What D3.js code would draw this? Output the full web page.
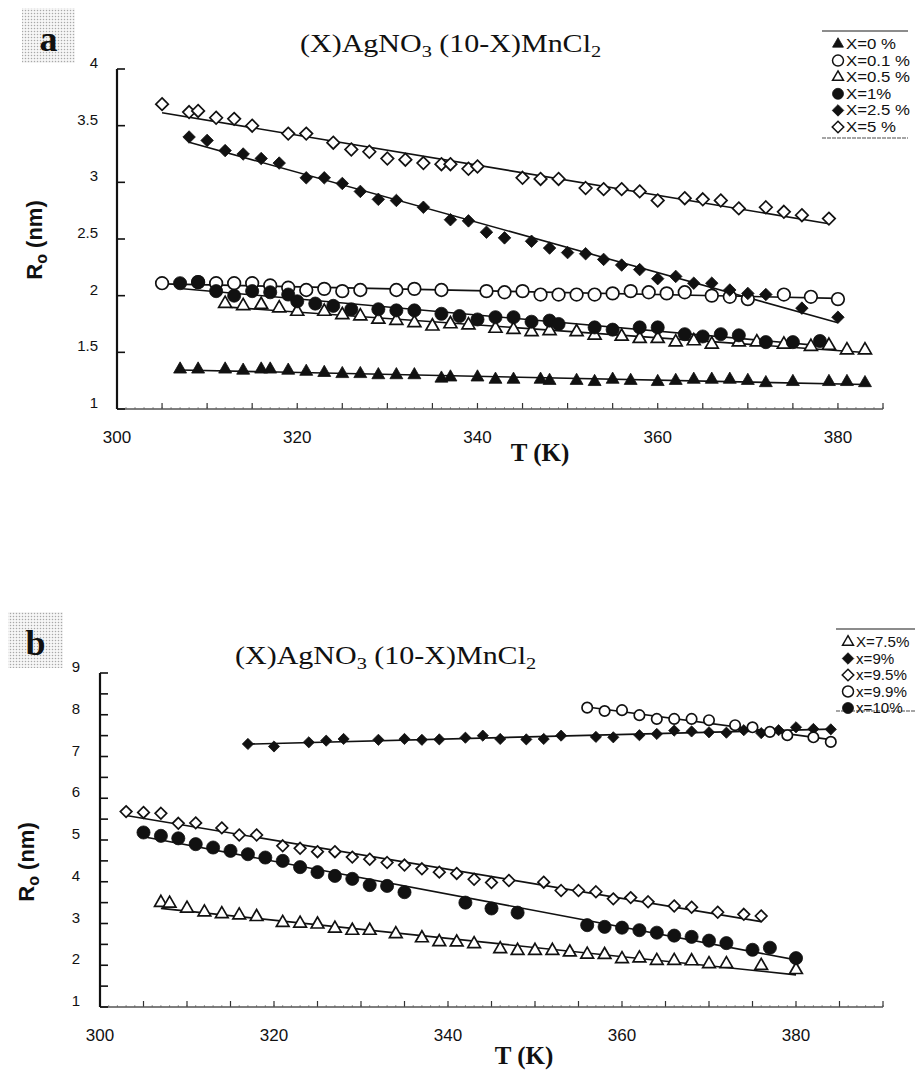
<!DOCTYPE html>
<html lang="en">
<head>
<meta charset="UTF-8">
<title>Ro vs T</title>
<script src="https://d3js.org/d3.v7.min.js"></script>
<style>
  body { margin: 0; background: #fff; }
  svg text { font-family: "Liberation Sans", Arial, sans-serif; fill: #111; }
  svg text.serif { font-family: "Liberation Serif", "Times New Roman", serif; }
</style>
</head>
<body>
<div id="chart"></div>
<script>
// ---- panel a : (X)AgNO3 (10-X)MnCl2, X = 0 ... 5 %
const a_x0_T  = [307,309,312,314,316,317,319,321,323,325,327,329,331,333,336,337,340,342,344,347,348,351,353,355,357,360,362,364,366,368,370,372,375,379,381,383];
const a_x0_R  = [1.35,1.35,1.35,1.34,1.35,1.35,1.34,1.33,1.32,1.31,1.31,1.30,1.30,1.30,1.27,1.28,1.28,1.26,1.26,1.26,1.25,1.25,1.24,1.26,1.25,1.24,1.25,1.26,1.26,1.26,1.25,1.23,1.24,1.24,1.24,1.23];
const a_x01_T = [305,309,311,313,315,317,319,321,323,325,327,331,333,336,341,343,345,347,349,351,353,355,357,359,361,363,366,368,370,374,377,380];
const a_x01_R = [2.11,2.12,2.11,2.11,2.11,2.09,2.07,2.05,2.06,2.04,2.05,2.05,2.06,2.05,2.04,2.03,2.04,2.01,2.01,2.01,2.01,2.02,2.04,2.03,2.02,2.03,2.00,1.99,1.97,2.01,1.99,1.97];
const a_x05_T = [312,314,316,318,320,323,325,327,329,331,333,335,337,339,342,344,346,348,351,353,356,358,360,362,364,366,369,371,374,377,379,381,383];
const a_x05_R = [1.93,1.91,1.92,1.89,1.86,1.86,1.83,1.82,1.79,1.78,1.76,1.73,1.75,1.74,1.71,1.70,1.68,1.69,1.68,1.65,1.64,1.62,1.62,1.59,1.60,1.57,1.59,1.59,1.57,1.55,1.56,1.52,1.52];
const a_x1_T  = [307,309,311,313,315,317,319,320,322,324,326,329,331,333,336,338,340,342,344,346,348,349,353,355,358,360,363,365,367,369,372,375,378];
const a_x1_R  = [2.11,2.12,2.04,2.00,2.04,2.03,2.01,1.95,1.93,1.91,1.88,1.88,1.87,1.87,1.84,1.82,1.79,1.81,1.81,1.77,1.78,1.75,1.72,1.70,1.72,1.72,1.66,1.64,1.66,1.65,1.59,1.59,1.60];
const a_x25_T = [308,310,312,314,316,318,321,323,325,327,329,331,334,337,339,341,343,346,348,350,352,354,356,358,360,362,364,366,368,370,372,376,380];
const a_x25_R = [3.40,3.37,3.28,3.25,3.21,3.17,3.04,3.04,2.99,2.92,2.85,2.84,2.78,2.67,2.66,2.56,2.51,2.48,2.42,2.38,2.37,2.32,2.27,2.23,2.15,2.17,2.11,2.11,2.05,2.02,2.01,1.89,1.81];
const a_x5_T  = [305,308,309,311,313,315,319,321,324,326,328,330,332,334,336,337,339,340,345,347,349,352,354,356,358,360,363,365,367,369,372,374,376,379];
const a_x5_R  = [3.69,3.62,3.63,3.57,3.56,3.50,3.43,3.43,3.35,3.29,3.27,3.21,3.20,3.17,3.16,3.16,3.12,3.14,3.04,3.03,3.03,2.95,2.94,2.94,2.92,2.84,2.86,2.85,2.84,2.77,2.78,2.74,2.71,2.68];

// ---- panel b : X = 7.5 ... 10 %
const b_x75_T = [307,308,310,312,314,316,318,321,323,325,327,329,331,334,337,339,341,343,346,348,350,352,354,356,358,360,362,364,366,368,370,372,376,380];
const b_x75_R = [3.50,3.48,3.36,3.27,3.23,3.20,3.16,3.02,3.00,2.98,2.88,2.83,2.83,2.75,2.65,2.56,2.55,2.51,2.39,2.35,2.35,2.35,2.31,2.26,2.25,2.15,2.17,2.11,2.11,2.10,2.03,2.03,1.99,1.89];
const b_x9_T  = [317,320,324,326,328,332,335,337,339,342,344,346,349,351,353,357,359,362,364,366,368,370,372,374,376,378,380,382,384];
const b_x9_R  = [7.30,7.24,7.34,7.38,7.42,7.40,7.42,7.40,7.41,7.45,7.50,7.42,7.41,7.42,7.50,7.47,7.46,7.51,7.54,7.62,7.60,7.58,7.57,7.63,7.56,7.63,7.70,7.66,7.65];
const b_x95_T = [303,305,307,309,311,314,316,318,321,323,325,327,329,331,333,335,337,339,341,343,345,347,351,353,355,357,359,361,363,366,368,371,374,376];
const b_x95_R = [5.68,5.66,5.64,5.40,5.41,5.29,5.12,5.12,4.86,4.80,4.72,4.72,4.59,4.54,4.46,4.40,4.31,4.23,4.20,4.06,3.98,4.03,3.99,3.79,3.79,3.76,3.59,3.62,3.52,3.42,3.39,3.27,3.22,3.18];
const b_x99_T = [356,358,360,362,364,366,368,370,373,375,377,379,382,384];
const b_x99_R = [8.17,8.09,8.11,7.99,7.90,7.90,7.90,7.87,7.75,7.70,7.59,7.51,7.46,7.35];
const b_x10_T = [305,307,309,311,313,315,317,319,321,323,325,327,329,331,333,335,342,345,348,356,358,360,362,364,366,368,370,372,375,377,380];
const b_x10_R = [5.18,5.10,5.04,4.90,4.82,4.74,4.66,4.58,4.50,4.35,4.23,4.14,4.07,3.92,3.90,3.75,3.50,3.36,3.26,2.96,2.92,2.90,2.84,2.78,2.71,2.68,2.59,2.53,2.37,2.42,2.17];

const xTickLabels = [300, 320, 340, 360, 380];
const aYTickLabels = [1, 1.5, 2, 2.5, 3, 3.5, 4];
const bYTickLabels = [1, 2, 3, 4, 5, 6, 7, 8, 9];
const aLegend = ["X=0 %", "X=0.1 %", "X=0.5 %", "X=1%", "X=2.5 %", "X=5 %"];
const bLegend = ["X=7.5%", "x=9%", "x=9.5%", "x=9.9%", "x=10%"];

const svg = d3.select("#chart").append("svg")
    .attr("width", 915)
    .attr("height", 1070);

// dotted grey background of the panel letters
const pat = svg.append("defs").append("pattern")
    .attr("id", "dots")
    .attr("width", 3).attr("height", 3)
    .attr("patternUnits", "userSpaceOnUse");
pat.append("rect").attr("width", 3).attr("height", 3).attr("fill", "#f6f6f6");
pat.append("circle").attr("cx", 1.5).attr("cy", 1.5).attr("r", 0.75).attr("fill", "#a8a8a8");

function symbolType(shape) {
    if (shape === "circle") return d3.symbolCircle;
    if (shape === "triangle") return d3.symbolTriangle2;
    return d3.symbolDiamond2;
}

function drawPanel(p) {
    const g = svg.append("g");
    const x = d3.scaleLinear().domain(p.xDomain).range(p.xRange);
    const y = d3.scaleLinear().domain(p.yDomain).range(p.yRange);

    // letter box
    g.append("rect")
        .attr("x", p.box[0]).attr("y", p.box[1])
        .attr("width", p.box[2]).attr("height", p.box[3])
        .attr("fill", "url(#dots)");
    g.append("text").attr("class", "serif")
        .attr("x", p.box[0] + p.box[2] / 2).attr("y", p.letterY)
        .attr("text-anchor", "middle")
        .attr("font-size", 36).attr("font-weight", "bold")
        .text(p.letter);

    // title
    const t = g.append("text").attr("class", "serif")
        .attr("transform", `translate(${p.titlePos[0]},${p.titlePos[1]}) scale(1.2,1)`)
        .attr("font-size", 25);
    t.append("tspan").text("(X)AgNO");
    t.append("tspan").attr("font-size", 17).attr("dy", 5).text("3");
    t.append("tspan").attr("dy", -5).text(" (10-X)MnCl");
    t.append("tspan").attr("font-size", 17).attr("dy", 5).text("2");

    // axes
    const x0 = x.range()[0], x1 = x.range()[1];
    const yb = y.range()[0], yt = y.range()[1];

    const minor = d3.range(p.xDomain[0] + 1, p.xDomain[1] + 0.1, 1);
    g.append("g").selectAll("line").data(minor).join("line")
        .attr("x1", d => x(d)).attr("x2", d => x(d))
        .attr("y1", yb).attr("y2", yb - 2)
        .attr("stroke", "#999").attr("stroke-width", 1);
    const major = d3.range(p.xDomain[0] + 5, p.xDomain[1] + 0.1, 5);
    g.append("g").selectAll("line").data(major).join("line")
        .attr("x1", d => x(d)).attr("x2", d => x(d))
        .attr("y1", yb).attr("y2", yb - 6)
        .attr("stroke", "#333").attr("stroke-width", 1.2);
    g.append("line")
        .attr("x1", x0).attr("x2", x1).attr("y1", yb).attr("y2", yb)
        .attr("stroke", "#555").attr("stroke-width", 1.6);

    const yTicks = d3.range(p.yDomain[0], p.yDomain[1] + 0.01, 0.5);
    g.append("g").selectAll("line").data(yTicks).join("line")
        .attr("x1", x0).attr("x2", x0 + 8)
        .attr("y1", d => y(d)).attr("y2", d => y(d))
        .attr("stroke", "#111").attr("stroke-width", 1.6);
    g.append("line")
        .attr("x1", x0).attr("x2", x0).attr("y1", yb).attr("y2", yt)
        .attr("stroke", "#111").attr("stroke-width", 2.2);

    g.append("g").selectAll("text").data(xTickLabels).join("text")
        .attr("x", d => x(d)).attr("y", yb + p.xLabelDy)
        .attr("text-anchor", "middle").attr("font-size", 17)
        .text(d => d);
    g.append("g").selectAll("text").data(p.yLabels).join("text")
        .attr("x", p.yLabelX).attr("y", d => y(d) - 1)
        .attr("text-anchor", "end").attr("font-size", 15)
        .text(d => d);

    // axis titles
    g.append("text").attr("class", "serif")
        .attr("x", p.xTitle[0]).attr("y", p.xTitle[1])
        .attr("text-anchor", "middle")
        .attr("font-size", 25).attr("font-weight", "bold")
        .text("T (K)");
    const yt2 = g.append("text")
        .attr("transform", `translate(${p.yTitle[0]},${p.yTitle[1]}) rotate(-90)`)
        .attr("text-anchor", "middle")
        .attr("font-size", 22).attr("font-weight", "bold");
    yt2.append("tspan").text("R");
    yt2.append("tspan").attr("font-size", 16).attr("dy", 5).text("o");
    yt2.append("tspan").attr("dy", -5).text(" (nm)");

    // fits and points
    p.series.forEach(s => {
        const pts = s.T.map((v, i) => [v, s.R[i]]);
        const mx = d3.mean(s.T), my = d3.mean(s.R);
        const slope = d3.sum(pts, d => (d[0] - mx) * (d[1] - my)) / d3.sum(pts, d => (d[0] - mx) ** 2);
        const ends = d3.extent(s.T);
        g.append("path")
            .datum(ends)
            .attr("fill", "none").attr("stroke", "#111").attr("stroke-width", 1.6)
            .attr("d", d3.line().x(d => x(d)).y(d => y(my + slope * (d - mx))));
    });
    p.series.forEach(s => {
        const sym = d3.symbol().type(symbolType(s.shape)).size(s.size);
        g.append("g").selectAll("path").data(s.T.map((v, i) => [v, s.R[i]])).join("path")
            .attr("transform", d => `translate(${x(d[0])},${y(d[1])})`)
            .attr("d", sym)
            .attr("fill", s.filled ? "#111" : "#fff")
            .attr("stroke", "#111")
            .attr("stroke-width", s.filled ? 0.8 : 1.7);
    });

    // legend
    const lg = g.append("g");
    const L = p.legend;
    lg.append("line").attr("x1", L.x0).attr("x2", L.x1).attr("y1", L.top).attr("y2", L.top)
        .attr("stroke", "#666").attr("stroke-width", 1.4);
    lg.append("line").attr("x1", L.x0).attr("x2", L.x1).attr("y1", L.bottom).attr("y2", L.bottom)
        .attr("stroke", "#888").attr("stroke-width", 1.4).attr("stroke-dasharray", "4,1");
    p.series.forEach((s, i) => {
        const yy = L.first + i * L.step;
        lg.append("path")
            .attr("transform", `translate(${L.mx},${yy})`)
            .attr("d", d3.symbol().type(symbolType(s.shape)).size(s.shape === "circle" ? 95 : 85))
            .attr("fill", s.filled ? "#111" : "#fff")
            .attr("stroke", "#111").attr("stroke-width", s.filled ? 0.8 : 1.5);
        lg.append("text")
            .attr("transform", `translate(${L.tx},${yy + 5}) scale(${L.sx},1)`)
            .attr("font-size", 14)
            .text(p.labels[i]);
    });
}

drawPanel({
    letter: "a", box: [22, 8, 53, 55], letterY: 51,
    titlePos: [300, 52],
    xDomain: [300, 385], xRange: [117, 883],
    yDomain: [1, 4], yRange: [409, 69],
    xLabelDy: 34, yLabelX: 98, yLabels: aYTickLabels,
    xTitle: [540, 461], yTitle: [42, 240],
    labels: aLegend,
    legend: { x0: 822, x1: 908, top: 31, bottom: 138, first: 44, step: 16.6, mx: 838, tx: 846, sx: 1.2 },
    series: [
        { T: a_x0_T,  R: a_x0_R,  shape: "triangle", filled: true,  size: 120 },
        { T: a_x01_T, R: a_x01_R, shape: "circle",   filled: false, size: 125 },
        { T: a_x05_T, R: a_x05_R, shape: "triangle", filled: false, size: 120 },
        { T: a_x1_T,  R: a_x1_R,  shape: "circle",   filled: true,  size: 135 },
        { T: a_x25_T, R: a_x25_R, shape: "diamond",  filled: true,  size: 100 },
        { T: a_x5_T,  R: a_x5_R,  shape: "diamond",  filled: false, size: 100 }
    ]
});

drawPanel({
    letter: "b", box: [8, 612, 55, 56], letterY: 655,
    titlePos: [235, 664],
    xDomain: [300, 390], xRange: [100, 883],
    yDomain: [1, 9], yRange: [1007, 673],
    xLabelDy: 34, yLabelX: 80, yLabels: bYTickLabels,
    xTitle: [524, 1064], yTitle: [34, 862],
    labels: bLegend,
    legend: { x0: 836, x1: 915, top: 629, bottom: 711, first: 642, step: 16.5, mx: 848, tx: 856, sx: 1.08 },
    series: [
        { T: b_x75_T, R: b_x75_R, shape: "triangle", filled: false, size: 115 },
        { T: b_x9_T,  R: b_x9_R,  shape: "diamond",  filled: true,  size: 80 },
        { T: b_x95_T, R: b_x95_R, shape: "diamond",  filled: false, size: 85 },
        { T: b_x99_T, R: b_x99_R, shape: "circle",   filled: false, size: 85 },
        { T: b_x10_T, R: b_x10_R, shape: "circle",   filled: true,  size: 135 }
    ]
});
</script>
</body>
</html>
